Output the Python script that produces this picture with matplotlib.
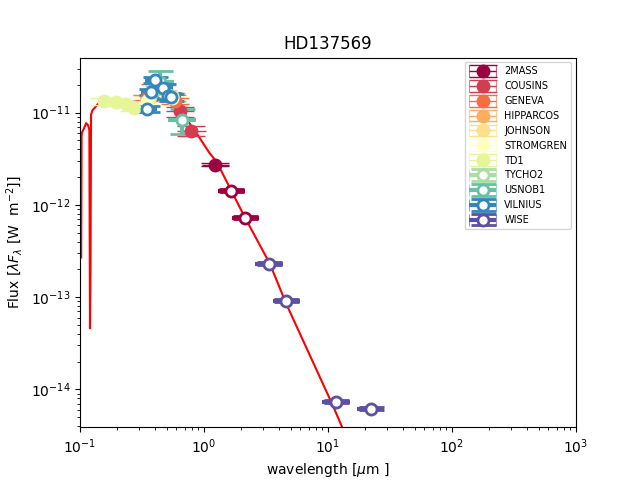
import matplotlib
matplotlib.use("Agg")
import matplotlib.pyplot as plt
import numpy as np
from matplotlib.container import ErrorbarContainer
from matplotlib.legend_handler import HandlerErrorbar
from matplotlib.lines import Line2D

# photometry (wavelength in micron, flux in W m^-2)
catalogs = ["2MASS", "COUSINS", "GENEVA", "HIPPARCOS", "JOHNSON", "STROMGREN",
            "TD1", "TYCHO2", "USNOB1", "VILNIUS", "WISE"]

wave_2mass = [1.235]
flux_2mass = [2.74e-12]
wave_2mass_open = [1.662, 2.159]
flux_2mass_open = [1.43e-12, 7.3e-13]

wave_cousins = [0.64, 0.79]
flux_cousins = [1.03e-11, 6.4e-12]

wave_geneva = [0.346, 0.402, 0.423, 0.448, 0.541, 0.551, 0.581]
flux_geneva = [1.45e-11, 1.9e-11, 1.95e-11, 1.85e-11, 1.5e-11, 1.45e-11, 1.35e-11]

wave_hipparcos = [0.53]
flux_hipparcos = [1.5e-11]

wave_johnson = [0.36, 0.44, 0.55]
flux_johnson = [1.4e-11, 1.8e-11, 1.5e-11]

wave_stromgren = [0.35, 0.411, 0.467, 0.547]
flux_stromgren = [1.35e-11, 1.85e-11, 1.7e-11, 1.45e-11]

wave_td1 = [0.1565, 0.1965, 0.2365, 0.274]
flux_td1 = [1.33e-11, 1.29e-11, 1.25e-11, 1.12e-11]

wave_tycho2 = [0.42, 0.53]
flux_tycho2 = [1.8e-11, 1.5e-11]

wave_usnob1 = [0.443, 0.665]
flux_usnob1 = [2.15e-11, 8.4e-12]

wave_vilnius = [0.345, 0.374, 0.405, 0.466, 0.516, 0.544]
flux_vilnius = [1.10e-11, 1.69e-11, 2.28e-11, 1.87e-11, 1.53e-11, 1.46e-11]

wave_wise = [3.35, 4.6, 11.6, 22.1]
flux_wise = [2.31e-13, 9.2e-14, 7.4e-15, 6.2e-15]

# relative flux error and half band width (dex) per catalog
rel_err = [0.03, 0.12, 0.08, 0.08, 0.08, 0.05, 0.08, 0.1, 0.3, 0.08, 0.03]
half_band = [0.11, 0.115, 0.05, 0.1, 0.08, 0.04, 0.05, 0.07, 0.11, 0.08, 0.11]
open_catalogs = ["TYCHO2", "USNOB1", "VILNIUS", "WISE"]

# model SED
model_wave = [0.1022, 0.1030, 0.1042, 0.1080, 0.1120, 0.1160, 0.1190, 0.1203,
              0.1215, 0.1228, 0.1260, 0.1314, 0.1400, 0.1550, 0.1800, 0.2000,
              0.2150, 0.2300, 0.2600, 0.3000, 0.3400, 0.3700, 0.4000, 0.4400,
              0.4800, 0.5200, 0.5600, 0.6000, 0.6500, 0.7000, 0.8000, 0.9000,
              0.9640, 1.1000, 1.2700, 1.6500, 2.1400, 3.4000, 4.6000, 11.000,
              20.000]
model_flux = [2.7e-13, 5.6e-12, 6.2e-12, 6.8e-12, 7.7e-12, 7.3e-12, 6.5e-12, 4.6e-14,
              2.0e-13, 9.5e-12, 1.06e-11, 1.13e-11, 1.25e-11, 1.32e-11, 1.35e-11, 1.32e-11,
              1.15e-11, 1.25e-11, 1.30e-11, 1.35e-11, 1.45e-11, 1.75e-11, 2.0e-11, 1.95e-11,
              1.8e-11, 1.65e-11, 1.5e-11, 1.3e-11, 1.12e-11, 9.5e-12, 6.9e-12, 5.6e-12,
              4.86e-12, 3.7e-12, 2.9e-12, 1.45e-12, 7.3e-13, 2.3e-13, 8.5e-14, 6.6e-15,
              1.0e-15]

points = {
    "2MASS": (wave_2mass, flux_2mass), "COUSINS": (wave_cousins, flux_cousins),
    "GENEVA": (wave_geneva, flux_geneva), "HIPPARCOS": (wave_hipparcos, flux_hipparcos),
    "JOHNSON": (wave_johnson, flux_johnson), "STROMGREN": (wave_stromgren, flux_stromgren),
    "TD1": (wave_td1, flux_td1), "TYCHO2": (wave_tycho2, flux_tycho2),
    "USNOB1": (wave_usnob1, flux_usnob1), "VILNIUS": (wave_vilnius, flux_vilnius),
    "WISE": (wave_wise, flux_wise),
}


def draw_points(ax, wave, flux, color, rel, band, is_open, label=None):
    wave = np.array(wave)
    flux = np.array(flux)
    xerr = [wave - wave / 10**band, wave * 10**band - wave]
    yerr = rel * flux
    if is_open:
        style = dict(fmt="o", ms=8, mfc="white", mec=color, mew=2, ecolor=color,
                     elinewidth=3, capsize=9, capthick=3)
    else:
        style = dict(fmt="o", ms=9, color=color, ecolor=color,
                     elinewidth=1, capsize=10, capthick=1)
    eb = ax.errorbar(wave, flux, xerr=xerr, yerr=yerr, label=label, **style)
    # no caps on the wavelength bars in the plot
    for cap in eb[1]:
        if cap.get_marker() == "|":
            cap.set_data([], [])
    return eb


fig, ax = plt.subplots(figsize=(6.4, 4.8))
ax.plot(model_wave, model_flux, color="red", lw=1.5)

colors = plt.get_cmap("Spectral")(np.linspace(0, 1, len(catalogs)))
for i, name in enumerate(catalogs):
    wave, flux = points[name]
    draw_points(ax, wave, flux, colors[i], rel_err[i], half_band[i],
                name in open_catalogs, label=name)
    if name == "2MASS":
        draw_points(ax, wave_2mass_open, flux_2mass_open, colors[i],
                    rel_err[i], half_band[i], True)

ax.set_xscale("log")
ax.set_yscale("log")
ax.set_xlim(0.1, 1000)
ax.set_ylim(3.9e-15, 3.95e-11)
ax.set_title("HD137569")
ax.set_xlabel(r"wavelength [$\mu$m ]")
ax.set_ylabel(r"Flux [$\lambda F_\lambda$ [W  m$^{-2}$]]")
leg = ax.legend(loc="upper right", fontsize=7, handlelength=2.9,
                handler_map={ErrorbarContainer: HandlerErrorbar(xerr_size=1.4, yerr_size=0.6)})
# short, thin end caps in the legend handles
for ln in leg.findobj(Line2D):
    if ln.get_marker() == "|":
        ln.set_markersize(8)
        ln.set_markeredgewidth(0.8)
        ln.set_alpha(0.6)

plt.savefig("out.png", dpi=100)
